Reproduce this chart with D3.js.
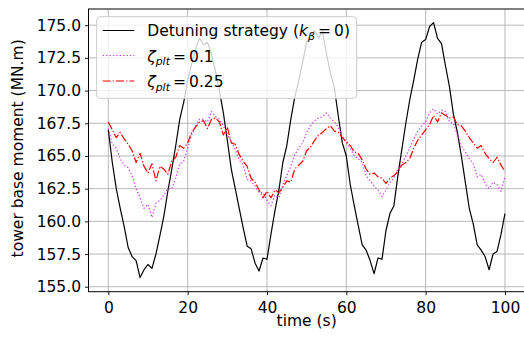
<!DOCTYPE html>
<html>
<head>
<meta charset="utf-8">
<script src="https://cdn.jsdelivr.net/npm/d3@7"></script>
<style>
  html, body { margin: 0; padding: 0; background: #fff; }
  svg { display: block; font-family: "DejaVu Sans", sans-serif; }
</style>
</head>
<body>
<svg id="chart" width="524" height="343"></svg>
<script>
// Time axis (s), one sample per second
const time = d3.range(0, 101);

// Tower base moment (MN.m), detuning strategy with k_beta = 0
const detuning = [
  167.0, 164.5, 162.5, 161.0, 159.6, 158.0, 157.3, 157.0, 155.7, 156.3,
  156.7, 156.4, 157.5, 158.9, 160.4, 162.3, 164.0, 165.8, 167.8, 169.1,
  170.8, 172.0, 173.2, 174.0, 173.5, 173.7, 172.8, 171.5, 170.0, 168.3,
  166.2, 164.0, 162.5, 161.0, 159.5, 158.1, 157.9, 156.8, 156.2, 157.2,
  157.1, 159.0, 160.8, 162.4, 164.5, 165.8, 167.8, 169.5, 170.7, 172.2,
  173.7, 174.2, 174.6, 174.0, 174.5, 172.8, 171.3, 170.2, 168.0, 166.0,
  165.0, 162.8, 161.2, 159.7, 158.2, 157.8, 157.0, 156.0, 157.2, 157.1,
  159.3, 160.6, 161.2, 163.5, 165.5, 167.5, 169.3, 170.8, 172.4, 173.7,
  173.9, 174.9, 175.2, 174.0, 173.6, 171.9, 170.3, 168.2, 166.8, 165.0,
  163.0, 161.0, 159.8, 158.2, 157.8, 157.3, 156.3, 157.5, 157.7, 159.0,
  160.6
];

// Tower base moment (MN.m), zeta_plt = 0.1
const zeta01 = [
  167.1, 165.9, 165.6, 164.8, 164.3, 164.1, 163.5, 162.5, 161.8, 161.0,
  161.3, 160.3, 161.4, 161.6, 162.0, 162.5, 162.5, 163.3, 164.4, 164.6,
  165.6, 166.6, 167.3, 167.8, 167.8, 167.6, 168.4, 168.0, 167.8, 167.3,
  166.7, 166.1, 165.5, 164.7, 164.3, 163.2, 163.1, 162.7, 162.2, 162.2,
  161.6, 161.2, 162.0, 161.8, 162.8, 163.5, 164.2, 165.1, 165.6, 166.0,
  166.8, 167.3, 167.7, 167.9, 168.0, 168.3, 167.9, 167.6, 167.2, 166.5,
  166.0, 165.6, 165.0, 164.8, 164.5, 163.5, 163.1, 162.7, 162.4, 161.9,
  162.4, 163.0, 163.3, 164.0, 164.4, 165.0, 165.6, 166.3, 166.9, 167.3,
  167.6, 168.3, 168.6, 168.2, 168.5, 168.4, 167.6, 167.5, 166.6, 165.8,
  165.3, 164.8, 164.4, 163.4, 163.6, 162.9, 162.5, 163.0, 162.8, 162.3,
  163.4
];

// Tower base moment (MN.m), zeta_plt = 0.25
const zeta025 = [
  167.6, 167.0, 166.4, 166.8, 166.3, 165.9, 165.4, 164.5, 165.2, 164.2,
  163.7, 164.4, 163.1, 164.2, 164.0, 163.6, 164.6, 164.9, 165.8, 165.6,
  166.0, 166.8, 167.2, 167.6, 167.7, 167.1, 167.8, 167.9, 167.6, 166.6,
  167.2, 166.0, 165.9, 165.1, 164.6, 164.2, 163.3, 163.0, 162.4, 161.8,
  162.3, 161.8, 162.4, 162.2, 162.6, 163.1, 163.0, 164.0, 164.3, 164.6,
  165.4, 165.7, 166.2, 166.6, 166.8, 167.1, 167.3, 166.9, 166.8, 166.4,
  166.1, 165.8, 165.3, 165.2, 164.7, 164.0, 163.6, 163.7, 163.4, 163.3,
  162.9, 163.3, 163.5, 163.8, 164.3, 164.5, 164.8, 165.6, 166.2, 166.6,
  167.0, 167.4, 168.1, 167.6, 168.3, 168.1, 167.9, 168.0, 167.4, 167.3,
  166.9, 166.4, 166.0, 165.6, 165.8, 165.2, 164.8, 164.5, 164.9, 164.3,
  163.8
];

const xTicks = [0, 20, 40, 60, 80, 100];
const yTicks = [155.0, 157.5, 160.0, 162.5, 165.0, 167.5, 170.0, 172.5, 175.0];

const series = [
  { name: "detuning", values: detuning, color: "#000000", dash: null },
  { name: "zeta01", values: zeta01, color: "#cc33ee", dash: "1.3,2.1" },
  { name: "zeta025", values: zeta025, color: "#ff0000", dash: "8,2,1.3,2" }
];

const svg = d3.select("#chart");
const plot = { left: 88.5, top: 9, right: 524.8, bottom: 291.7 };
const fontSize = 15.5;

const x = d3.scaleLinear().domain([-5, 105]).range([plot.left, plot.right]);
const y = d3.scaleLinear().domain([154.62, 176.24]).range([plot.bottom, plot.top]);

svg.append("defs").append("clipPath").attr("id", "plot-clip")
  .append("rect")
  .attr("x", plot.left).attr("y", plot.top)
  .attr("width", plot.right - plot.left).attr("height", plot.bottom - plot.top);

// Grid
const grid = svg.append("g").attr("stroke", "#b0b0b0").attr("stroke-width", 0.9);
grid.selectAll(".gx").data(xTicks).join("line")
  .attr("x1", d => x(d)).attr("x2", d => x(d))
  .attr("y1", plot.top).attr("y2", plot.bottom);
grid.selectAll(".gy").data(yTicks).join("line")
  .attr("x1", plot.left).attr("x2", plot.right)
  .attr("y1", d => y(d)).attr("y2", d => y(d));

// Curves
const line = d3.line().x((d, i) => x(time[i])).y(d => y(d));
const curves = svg.append("g").attr("clip-path", "url(#plot-clip)");
curves.selectAll("path").data(series).join("path")
  .attr("d", d => line(d.values))
  .attr("fill", "none")
  .attr("stroke", d => d.color)
  .attr("stroke-width", 1.2)
  .attr("stroke-dasharray", d => d.dash)
  .attr("stroke-linejoin", "round");

// Axes
const xAxis = svg.append("g")
  .attr("transform", `translate(0,${plot.bottom})`)
  .call(d3.axisBottom(x).tickValues(xTicks).tickFormat(d3.format("d"))
    .tickSizeInner(3.5).tickSizeOuter(0).tickPadding(6.5));
const yAxis = svg.append("g")
  .attr("transform", `translate(${plot.left},0)`)
  .call(d3.axisLeft(y).tickValues(yTicks).tickFormat(d3.format(".1f"))
    .tickSizeInner(3.5).tickSizeOuter(0).tickPadding(4));
[xAxis, yAxis].forEach(a => {
  a.select(".domain").remove();
  a.selectAll("text").attr("font-size", fontSize).attr("fill", "#000")
    .attr("font-family", "DejaVu Sans");
  a.selectAll("line").attr("stroke", "#000").attr("stroke-width", 0.9);
});

// Frame
svg.append("rect")
  .attr("x", plot.left).attr("y", plot.top)
  .attr("width", plot.right - plot.left).attr("height", plot.bottom - plot.top)
  .attr("fill", "none").attr("stroke", "#000").attr("stroke-width", 1);

// Axis titles
svg.append("text")
  .attr("x", (plot.left + plot.right) / 2).attr("y", 326)
  .attr("text-anchor", "middle").attr("font-size", fontSize)
  .text("time (s)");
svg.append("text")
  .attr("transform", `translate(23,${(plot.top + plot.bottom) / 2 - 2}) rotate(-90)`)
  .attr("text-anchor", "middle").attr("font-size", fontSize)
  .text("tower base moment (MN.m)");

// Legend
const legend = svg.append("g");
legend.append("rect")
  .attr("x", 96.7).attr("y", 16.7).attr("width", 260).attr("height", 81.6)
  .attr("rx", 3.5)
  .attr("fill", "#fff").attr("fill-opacity", 0.8)
  .attr("stroke", "#cccccc").attr("stroke-width", 1);

const rows = [
  { s: series[0], cy: 30.5, base: 36 },
  { s: series[1], cy: 55.5, base: 61.7 },
  { s: series[2], cy: 81, base: 87.3 }
];
rows.forEach(r => {
  legend.append("line")
    .attr("x1", 102.7).attr("x2", 134.3)
    .attr("y1", r.cy).attr("y2", r.cy)
    .attr("stroke", r.s.color).attr("stroke-width", 1.2)
    .attr("stroke-dasharray", r.s.dash);
});

const subSize = fontSize * 0.7;
// Row 1: Detuning strategy (k_β = 0)
const t1 = legend.append("text").attr("x", 147.3).attr("y", rows[0].base)
  .attr("font-size", fontSize);
t1.append("tspan").text("Detuning strategy (");
t1.append("tspan").attr("font-style", "italic").text("k");
t1.append("tspan").attr("font-style", "italic").attr("font-size", subSize)
  .attr("dy", 3.5).text("β");
t1.append("tspan").attr("dy", -3.5).text("\u2009=\u20090)");

// Rows 2 and 3: ζ_plt = value
[["0.1", rows[1]], ["0.25", rows[2]]].forEach(([v, r]) => {
  const t = legend.append("text").attr("x", 147.3).attr("y", r.base)
    .attr("font-size", fontSize);
  t.append("tspan").attr("font-style", "italic").text("ζ");
  t.append("tspan").attr("font-style", "italic").attr("font-size", subSize)
    .attr("dy", 3.5).text("plt");
  t.append("tspan").attr("dy", -3.5).text("\u2009=\u2009" + v);
});
</script>
</body>
</html>
